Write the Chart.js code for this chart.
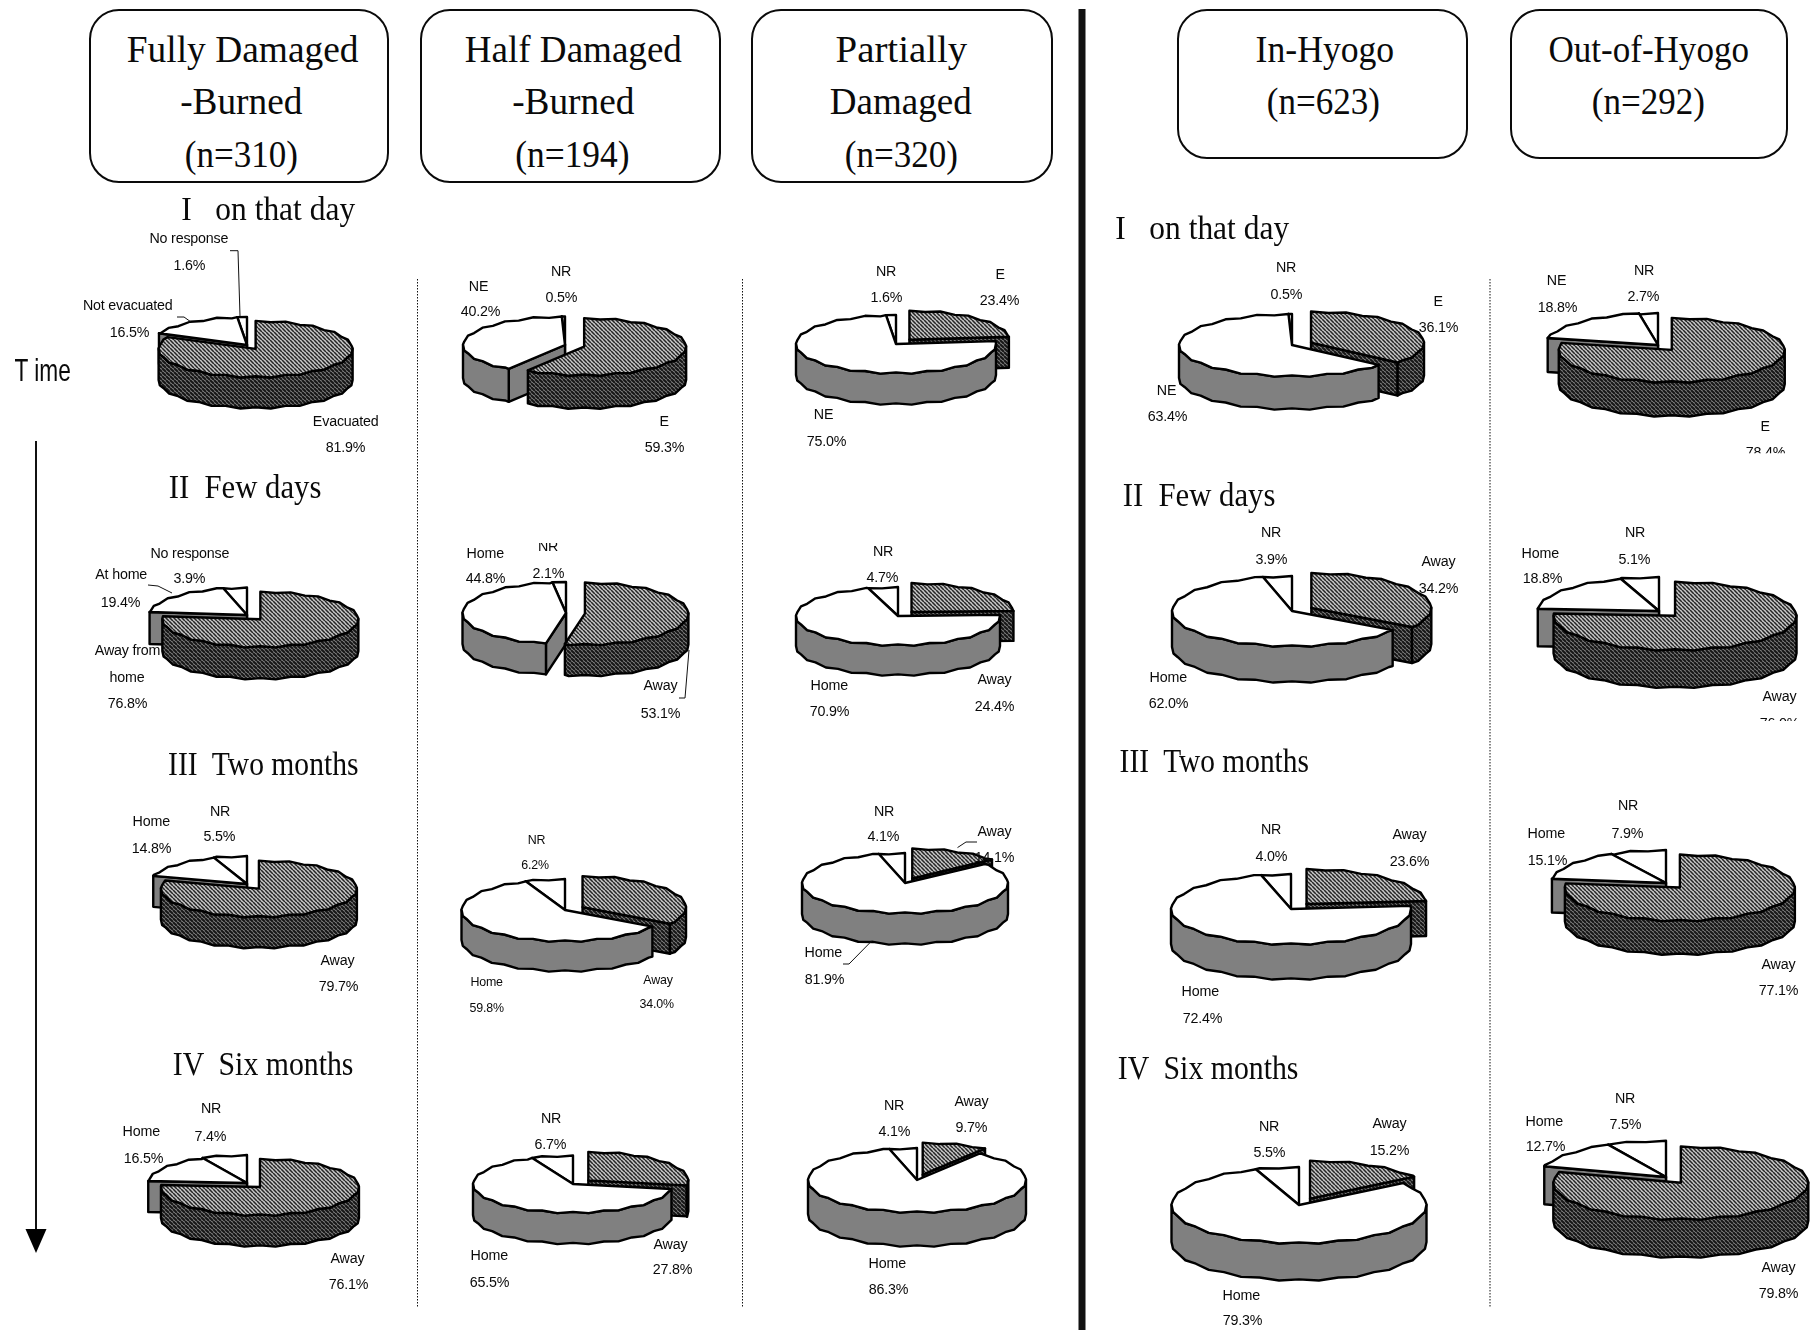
<!DOCTYPE html>
<html><head><meta charset="utf-8">
<script src="https://cdn.jsdelivr.net/npm/chart.js@4"></script>
<style>
html,body{margin:0;padding:0;background:#fff;}
#page{position:relative;width:1814px;height:1330px;overflow:hidden;background:#fff;filter:blur(0.35px);}
canvas{position:absolute;}
.t{position:absolute;white-space:pre;color:#0a0a0a;}
.lab{font-family:"Liberation Sans",sans-serif;font-size:15.5px;line-height:18px;height:18px;letter-spacing:-0.2px;transform:scaleX(0.92);}
.head{font-family:"Liberation Serif",serif;font-size:38px;line-height:44px;height:44px;}
.row{font-family:"Liberation Serif",serif;font-size:33px;line-height:40px;height:40px;}
.tm{font-family:"Liberation Sans",sans-serif;font-size:32px;line-height:36px;height:36px;}
.box{position:absolute;border:2px solid #0a0a0a;border-radius:30px;box-sizing:border-box;background:#fff;}
svg{position:absolute;left:0;top:0;}
</style></head><body><div id="page"></div>
<script>
// ---------- data (percent) ----------
const sliceOrder = ['Away','Home','No response'];
const fullyAway   = [81.9,76.8,79.7,76.1];
const fullyHome   = [16.5,19.4,14.8,16.5];
const fullyNR     = [1.6,3.9,5.5,7.4];
const halfAway    = [59.3,53.1,34.0,27.8];
const halfHome    = [40.2,44.8,59.8,65.5];
const halfNR      = [0.5,2.1,6.2,6.7];
const partialAway = [23.4,24.4,14.1,9.7];
const partialHome = [75.0,70.9,81.9,86.3];
const partialNR   = [1.6,4.7,4.1,4.1];
const inAway      = [36.1,34.2,23.6,15.2];
const inHome      = [63.4,62.0,72.4,79.3];
const inNR        = [0.5,3.9,4.0,5.5];
const outAway     = [78.4,76.0,77.1,79.8];
const outHome     = [18.8,18.8,15.1,12.7];
const outNR       = [2.7,5.1,7.9,7.5];
const seriesAway = [fullyAway,halfAway,partialAway,inAway,outAway];
const seriesHome = [fullyHome,halfHome,partialHome,inHome,outHome];
const seriesNR   = [fullyNR,halfNR,partialNR,inNR,outNR];
const namesEvac = ['E','NE','NR'];
const namesAway = ['Away','Home','NR'];
const sliceNames = [
  [['Evacuated','Not evacuated','No response'],['Away from\nhome','At home','No response'],namesAway,namesAway],
  [namesEvac,namesAway,namesAway,namesAway],
  [namesEvac,namesAway,namesAway,namesAway],
  [namesEvac,namesAway,namesAway,namesAway],
  [namesEvac,namesAway,namesAway,namesAway]
];
const headerLines = [
  ['Fully Damaged','-Burned','(n=310)'],['Half Damaged','-Burned','(n=194)'],
  ['Partially','Damaged','(n=320)'],['In-Hyogo','(n=623)'],['Out-of-Hyogo','(n=292)']
];
const periodNames = ['I   on that day','II  Few days','III  Two months','IV  Six months'];

// ---------- layout (not data) ----------
const S = 1814/1568;
// centre x, centre y, radius x, radius y, wall depth, explode distance
const pieGeom = [
 [[247,345,97,28,31,16],[247,615,98,27.5,32,20],[247,883.5,98,28,31,20],[247,1183,99,28,31,19]],
 [[565,345,102,28.5,33,20],[566,613,103.5,31,31,19],[564.5,910,103.5,31,30,20],[572.6,1183.8,100,28.5,31,20]],
 [[895.5,344,100,29,31,20],[897.5,616,102,29,30,19.5],[904.6,882.6,103,30,31,17],[917,1180,109,32,34,19]],
 [[1292,344.5,113,31,33,21],[1291.5,611,120,35,36,22],[1291,908.6,120,35,35,23],[1299,1205,127.5,38,37,24]],
 [[1658,345,113,32,34,22],[1659,611,121.5,34,37.5,23.5],[1665.6,882.6,115,33,33.7,21],[1665.6,1177,127.5,36.3,38,25]]
];
// [name x,y, value x,y] for away, home, nr — in shrunk-image coordinates
const labelPos = [
 [[[299,364,299,386],[110,264,112,287],[163,206,164,229]],
  [[110,562,110,608],[105,496,104,520],[164,478,164,500]],
  [[292,830,293,852],[131,710,131,733],[190,701,190,723]],
  [[300,1087,301,1110],[122,978,124,1001],[182,958,182,982]]],
 [[[574,364,574,386],[414,247,415,269],[485,234,485,257]],
  [[571,592,571,616],[420,478,420,500],[474,472,474,495]],
  [[571,847,570,868],[423,849,423,871],[465,726,465,748]],
  [[580,1075,581,1097],[423,1085,423,1108],[476,966,476,989]]],
 [[[864,237,864,259],[712,358,714,381],[766,234,766,257]],
  [[860,587,860,610],[717,592,717,615],[763,476,763,499]],
  [[860,718,860,741],[712,823,713,846],[764,701,764,723]],
  [[840,952,840,974],[767,1092,768,1114],[773,955,773,978]]],
 [[[1243,260,1243,283],[1008,337,1009,360],[1112,231,1112,254]],
  [[1243,485,1243,508],[1010,585,1010,608],[1099,460,1099,483]],
  [[1218,721,1218,744],[1038,857,1039,880],[1099,717,1099,740]],
  [[1201,971,1201,994],[1073,1119,1074,1141],[1097,973,1097,996]]],
 [[[1526,368,1526,391],[1345,242,1346,265],[1421,233,1421,256]],
  [[1538,602,1538,625],[1332,478,1333,500],[1413,460,1413,483]],
  [[1537,833,1537,856],[1337,720,1338,743],[1407,696,1407,720]],
  [[1537,1095,1537,1118],[1335,969,1336,991],[1405,949,1405,972]]]
];
const boxes = [[89,9,300,174],[420,9,301,174],[751,9,302,174],[1177,9,291,150],[1510,9,278,150]];
const headPos = [
 [[210,42,200],[209,87,106],[209,133,98]],[[496,42,188],[496,87,106],[495,133,99]],
 [[779,42,114],[779,87,123],[779,133,98]],[[1145,42,120],[1144,87,98]],[[1425,42,173],[1425,87,98]]
];
const rowPos = [
 [[232,181,150],[212,421,132],[228,660,165],[227,920,156]],
 [[1039,197,150],[1036,428,132],[1050,658,164],[1044,923,156]]
];
const page = document.getElementById('page');

function addText(cls, str, x, y, w){
  const d = document.createElement('div');
  d.className = 't '+cls; d.textContent = str;
  page.appendChild(d);
  const h = d.offsetHeight, ow = d.offsetWidth;
  d.style.left = (x-ow/2)+'px'; d.style.top = (y-h/2)+'px';
  if (w) d.style.transform = 'scaleX('+(w/ow)+')';
  return d;
}

// ---------- hatch patterns ----------
function hatch(base, line, lw){
  const c = document.createElement('canvas'); c.width = c.height = 4;
  const g = c.getContext('2d');
  g.fillStyle = base; g.fillRect(0,0,4,4);
  g.strokeStyle = line; g.lineWidth = lw;
  g.beginPath();
  for (let k=-4;k<=4;k+=4){ g.moveTo(k,0); g.lineTo(k+4,4); }
  g.stroke();
  return g.createPattern(c,'repeat');
}
const hatchTop  = hatch('#c8c8c8','#262626',1.55);
const hatchWall = hatch('#808080','#161616',2.0);
const wallGray  = '#808080';

// ---------- tilted, extruded drawing of Chart.js arc elements ----------
function rimPoints(cx,cy,rx,ry,a0,a1){
  const step = Math.PI/20, pts = [[cx+rx*Math.cos(a0),cy+ry*Math.sin(a0)]];
  let k = Math.ceil(a0/step+1e-6);
  for (; k*step < a1-1e-6; k++){
    const w = ((k%2)+2)%2 ? 1.0 : -0.6;   // slightly stepped rim, like the low-resolution original
    pts.push([cx+rx*Math.cos(k*step),cy+ry*Math.sin(k*step)+w]);
  }
  pts.push([cx+rx*Math.cos(a1),cy+ry*Math.sin(a1)]);
  return pts;
}
function poly(ctx,pts,fill){
  ctx.beginPath();
  pts.forEach((p,i)=> i?ctx.lineTo(p[0],p[1]):ctx.moveTo(p[0],p[1]));
  ctx.closePath();
  ctx.fillStyle = fill; ctx.fill(); ctx.stroke();
}
const pie3d = {
  id:'pie3d',
  beforeDatasetsDraw(chart, args, opts){
    const ctx = chart.ctx, arcs = chart.getDatasetMeta(0).data, k = opts.tilt, d = opts.depth;
    const order = arcs.map((a,i)=>i).sort((p,q)=>
      Math.sin((arcs[p].startAngle+arcs[p].endAngle)/2)-Math.sin((arcs[q].startAngle+arcs[q].endAngle)/2));
    ctx.save(); ctx.lineJoin='round'; ctx.lineCap='round';
    order.forEach(i=>{
      const a = arcs[i], o = a.options, a0=a.startAngle, a1=a.endAngle, mid=(a0+a1)/2;
      const off = (o.offset||0)/4;
      const cx = a.x+Math.cos(mid)*off, cy = a.y+Math.sin(mid)*off*k;
      const rx = a.outerRadius, ry = rx*k;
      ctx.lineWidth = o.borderWidth; ctx.strokeStyle = o.borderColor;
      const wall = opts.walls[i];
      const edge = ang => {
        const e=[cx+rx*Math.cos(ang),cy+ry*Math.sin(ang)];
        poly(ctx,[[cx,cy],e,[e[0],e[1]+d],[cx,cy+d]],wall);
      };
      if (Math.cos(a0)<-1e-3) edge(a0);
      if (Math.cos(a1)> 1e-3) edge(a1);
      const lo=Math.max(a0,0), hi=Math.min(a1,Math.PI);
      if (hi>lo){
        const t=rimPoints(cx,cy,rx,ry,lo,hi);
        poly(ctx,t.concat(t.slice().reverse().map(p=>[p[0],p[1]+d])),wall);
      }
      poly(ctx,[[cx,cy]].concat(rimPoints(cx,cy,rx,ry,a0,a1)),o.backgroundColor);
    });
    ctx.restore();
    return false;
  }
};

// ---------- charts ----------
seriesAway.forEach((col,c)=>col.forEach((_,r)=>{
  const g = pieGeom[c][r], half = Math.ceil(g[2]+g[5]+8);
  const cv = document.createElement('canvas');
  cv.width = cv.height = half*2;
  cv.style.left = (g[0]-half)+'px'; cv.style.top = (g[1]-half)+'px';
  cv.style.width = cv.style.height = (half*2)+'px';
  page.appendChild(cv);
  new Chart(cv,{
    type:'pie',
    data:{labels:sliceOrder,datasets:[{
      data:[seriesAway[c][r],seriesHome[c][r],seriesNR[c][r]],
      backgroundColor:[hatchTop,'#ffffff','#ffffff'],
      borderColor:'#000',borderWidth:2.4,radius:g[2],offset:[g[5]*4,0,0]
    }]},
    options:{responsive:false,animation:false,devicePixelRatio:1,events:[],
      layout:{padding:0},
      plugins:{legend:{display:false},tooltip:{enabled:false},
        pie3d:{tilt:g[3]/g[2],depth:g[4],walls:[hatchWall,wallGray,wallGray]}}},
    plugins:[pie3d]
  });
}));

// ---------- page furniture ----------
boxes.forEach(b=>{
  const d=document.createElement('div'); d.className='box';
  d.style.cssText='left:'+b[0]+'px;top:'+b[1]+'px;width:'+b[2]+'px;height:'+b[3]+'px';
  page.appendChild(d);
});
headerLines.forEach((ls,c)=>ls.forEach((s,i)=>{
  const p=headPos[c][i]; addText('head',s,p[0]*S,p[1]*S,p[2]*S);
}));
rowPos.forEach(col=>col.forEach((p,r)=>addText('row',periodNames[r],p[0]*S,p[1]*S,p[2]*S)));

const NS='http://www.w3.org/2000/svg';
const svg=document.createElementNS(NS,'svg');
svg.setAttribute('width',1814); svg.setAttribute('height',1330);
function line(pts,w,extra){
  const l=document.createElementNS(NS,'polyline');
  l.setAttribute('points',pts.map(p=>p.join(',')).join(' '));
  l.setAttribute('fill','none'); l.setAttribute('stroke','#111'); l.setAttribute('stroke-width',w);
  if(extra) l.setAttribute('stroke-dasharray',extra);
  svg.appendChild(l);
}
[417.5,742.5,1490].forEach(x=>line([[x,279],[x,1307]],1,'1.5 1.5'));
line([[1082,9],[1082,1330]],7);
line([[36,441],[36,1232]],2);
const head=document.createElementNS(NS,'polygon');
head.setAttribute('points','25.5,1229 46.5,1229 36,1253'); head.setAttribute('fill','#000'); svg.appendChild(head);
// leader lines
line([[230,250.7],[238,250.7],[240,316]],1);
line([[177,317],[184,317],[191,322]],1);
line([[148,585],[158,586],[172,593]],1);
line([[679,698],[685,698],[689,650]],1);
line([[957.5,847.6],[966,842],[977,842]],1);
line([[843,964],[849,964],[872,940.6]],1);
page.appendChild(svg);

addText('tm','T ime',42,370,56);

// ---------- slice labels ----------
seriesAway.forEach((col,c)=>col.forEach((_,r)=>{
  const vals=[seriesAway[c][r],seriesHome[c][r],seriesNR[c][r]];
  vals.forEach((v,i)=>{
    const p=labelPos[c][r][i];
    const small=(c===1&&r===2);
    sliceNames[c][r][i].split('\n').forEach((ln,k)=>{
      const el=addText('lab',ln,p[0]*S,(p[1]+k*23)*S);
      if(small) el.style.fontSize='13.5px';
      if(c===1&&r===1&&i===2) el.style.clipPath='inset(6px 0 0 0)';
    });
    const el=addText('lab',v.toFixed(1)+'%',p[2]*S,p[3]*S);
    if(small) el.style.fontSize='13.5px';
    if(c===4&&r===0&&i===0) el.style.clipPath='inset(0 0 8px 0)';
    if(c===4&&r===1&&i===0) el.style.clipPath='inset(0 0 11px 0)';
  });
}));
</script></body></html>
